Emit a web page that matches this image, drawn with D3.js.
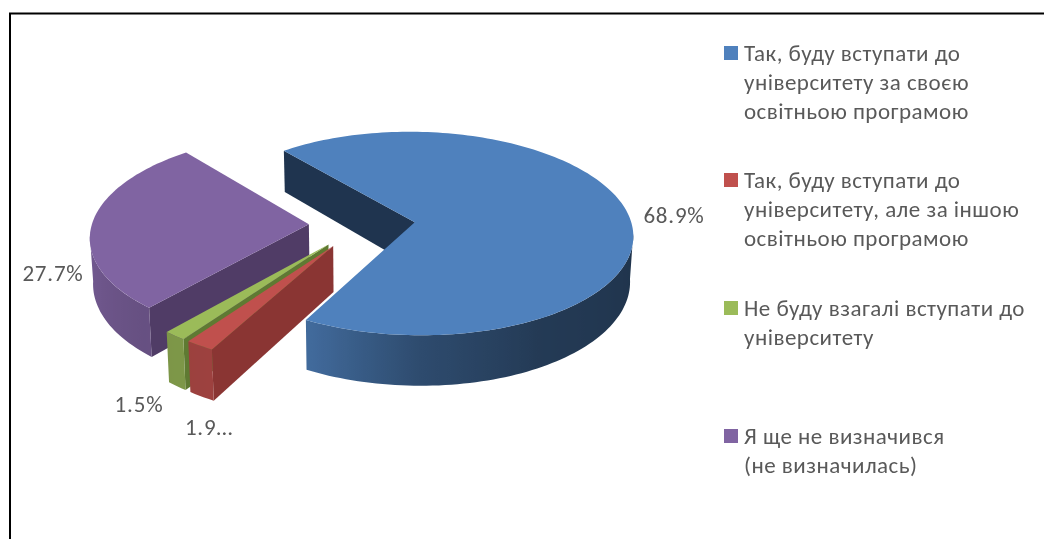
<!DOCTYPE html>
<html><head><meta charset="utf-8">
<script src="https://cdn.jsdelivr.net/npm/d3@7"></script>
<style>html,body{margin:0;padding:0;background:#fff}svg{display:block;filter:blur(.35px)}text{font-family:Carlito,Calibri,Lato,"Open Sans",sans-serif;fill:#595959}</style>
</head><body><svg id="c" width="1044" height="539"></svg>
<script>
const categories = [
  ["Так, буду вступати до","університету за своєю","освітньою програмою"],
  ["Так, буду вступати до","університету, але за іншою","освітньою програмою"],
  ["Не буду взагалі вступати до","університету"],
  ["Я ще не визначився","(не визначилась)"]
];
const values = [68.9, 1.9, 1.5, 27.7];
const valueLabels = ["68.9%","1.9…","1.5%","27.7%"];
const topColors = ["#4f81bd","#c0504d","#9bbb59","#8064a2"];
const edgeColors = ["#1f344f","#8a3533","#5f7a32","#503c66"];

const W=1044,H=539, cx=362, cy=224.5, Rx=217, Ry=101, persp=0.112, explode=0.245, depth=45, shrink=0.988;
const rad=Math.PI/180;
const svg=d3.select("#c");
const defs=svg.append("defs");
svg.append("path").attr("d",`M10 ${H}V13.5H${W}`).attr("fill","none").attr("stroke","#000").attr("stroke-width",2);

const pie=d3.pie().sort(null).startAngle(-39.5*rad).endAngle(320.5*rad);
const arcs=pie(values).map((d,i)=>({...d,i}));

function proj(X,V,z){
  const w=1/(1+persp*V);
  let x=Rx*X*w, y=-Ry*V*w;
  if(z){ x*=shrink; y+=depth*w; }
  return [cx+x, cy+y];
}
function apex(d,z){const m=(d.startAngle+d.endAngle)/2;return proj(explode*Math.sin(m),explode*Math.cos(m),z);}
function rim(d,a,z){const m=(d.startAngle+d.endAngle)/2;return proj(explode*Math.sin(m)+Math.sin(a),explode*Math.cos(m)+Math.cos(a),z);}
function samples(a0,a1){const n=Math.max(2,Math.ceil((a1-a0)/(1.5*rad)));return d3.range(n+1).map(k=>a0+(a1-a0)*k/n);}
const line=d3.line();
const shade=d3.scaleLinear().domain([90,150,180,207,222,270].map(v=>v*rad)).range([.39,.45,.58,.82,.8,.92]).clamp(true);
const silhouette=Math.acos(-persp);   // angle where the projected rim turns back in x

// back-to-front
const order=[3,2,1,0];
order.forEach(i=>{
  const d=arcs[i], g=svg.append("g").attr("class","slice");
  const A=apex(d), mid=(d.startAngle+d.endAngle)/2;
  const pr=proj((explode+.1)*Math.sin(mid),(explode+.1)*Math.cos(mid));
  // radial cut faces: shown when the slice interior sits above the cut line
  [d.startAngle,d.endAngle].forEach(a=>{
    const P=rim(d,a);
    const lineY=A[1]+(P[1]-A[1])*(pr[0]-A[0])/(P[0]-A[0]);
    if(pr[1]<lineY) g.append("path").attr("d",line([A,P,rim(d,a,1),apex(d,1)])+"Z").attr("fill",edgeColors[i]);
  });
  // outer wall with a horizontal gradient, only between the two silhouette angles
  const a0=Math.max(d.startAngle,silhouette), a1=Math.min(d.endAngle,2*Math.PI-silhouette);
  if(a1>a0){
    const s=samples(a0,a1), xs=s.map(a=>rim(d,a)[0]);
    const x0=d3.min(xs), x1=d3.max(xs), c=d3.rgb(topColors[i]);
    const grad=defs.append("linearGradient").attr("id","wall"+i).attr("gradientUnits","userSpaceOnUse")
      .attr("x1",x0).attr("x2",x1).attr("y1",0).attr("y2",0);
    const stops=s.map((a,k)=>({o:(xs[k]-x0)/(x1-x0),f:shade(a)})).sort((p,q)=>p.o-q.o);
    grad.selectAll("stop").data(stops).join("stop").attr("offset",v=>v.o)
      .attr("stop-color",v=>d3.rgb(c.r*v.f,c.g*v.f,c.b*v.f).formatHex());
    const poly=[...s.map(a=>rim(d,a)),...s.slice().reverse().map(a=>rim(d,a,1))];
    g.append("path").attr("d",line(poly)+"Z").attr("fill",`url(#wall${i})`);
  }
  // top face
  const pts=[A,...samples(d.startAngle,d.endAngle).map(a=>rim(d,a))];
  g.append("path").attr("d",line(pts)+"Z").attr("fill",topColors[i]);
});

// data labels
const labelPos=[[674,215],[209,427],[139,404],[53,273.5]];
svg.selectAll("text.dl").data(valueLabels).join("text").attr("class","dl")
  .attr("x",(d,i)=>labelPos[i][0]).attr("y",(d,i)=>labelPos[i][1]+7.5)
  .attr("text-anchor","middle").attr("font-size",23).attr("letter-spacing",.8).text(d=>d);

// legend
const legendY=[53,180,308,436], lh=29;
categories.forEach((lines,i)=>{
  svg.append("rect").attr("x",724).attr("y",legendY[i]-7).attr("width",14).attr("height",14).attr("fill",topColors[i]);
  const t=svg.append("text").attr("font-size",23).attr("letter-spacing",.48);
  lines.forEach((s,k)=>t.append("tspan").attr("x",744).attr("y",legendY[i]+7.5+k*lh).text(s));
});
</script></body></html>
